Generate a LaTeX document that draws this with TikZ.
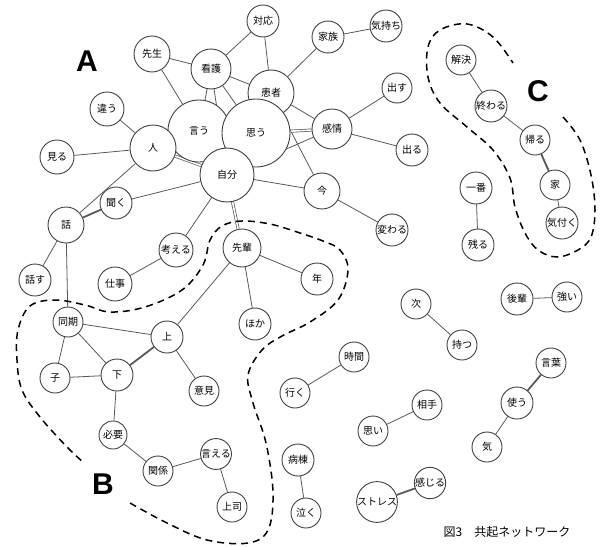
\documentclass[tikz,border=0pt]{standalone}
\usepackage{fontspec}
\newfontfamily\jp{Noto Sans CJK JP}
\newfontfamily\lat{Liberation Sans}
\usetikzlibrary{backgrounds}
\begin{document}
\begin{tikzpicture}[x=1pt,y=-1pt,
  nd/.style={circle,draw=black!75,line width=0.9pt,fill=white,inner sep=0pt,minimum size=#1pt,font=\jp\fontsize{10}{10}\selectfont},
  nd/.default=32,
  ed/.style={draw=black!65,line width=0.8pt},
  thk/.style={draw=black!65,line width=1.8pt},
  dbl/.style={draw=black!65,line width=0.7pt,double=white,double distance=1.6pt},
  grp/.style={line width=1.5pt,dash pattern=on 7pt off 5pt},
  big/.style={font=\lat\bfseries\fontsize{30}{30}\selectfont,inner sep=0pt}]
\useasboundingbox (0,0) rectangle (602,546);
% cluster A
\node[nd=32] (taiou) at (263,21) {対応};
\node[nd=36] (sensei) at (152,54) {先生};
\node[nd=40] (kango) at (211,69) {看護};
\node[nd=46] (kanja) at (271,93) {患者};
\node[nd=62] (iu) at (199,131) {言う};
\node[nd=68] (omou) at (256,133) {思う};
\node[nd=46] (hito) at (153,148) {人};
\node[nd=54] (jibun) at (227,175) {自分};
\node[nd=34] (chigau) at (107,109) {違う};
\node[nd=34] (miru) at (57,157) {見る};
\node[nd=32] (kazoku) at (328,37) {家族};
\node[nd=32] (kimochi) at (386,26) {気持ち};
\node[nd=30] (dasu) at (397,88) {出す};
\node[nd=40] (kanjou) at (332,129) {感情};
\node[nd=32] (deru) at (412,150) {出る};
\node[nd=36] (ima) at (322,191) {今};
\node[nd=32] (kawaru) at (392,230) {変わる};
\node[nd=32] (kiku) at (116,203) {聞く};
\node[nd=36] (hanashi) at (66,225) {話};
\node[nd=32] (hanasu) at (35,280) {話す};
\node[nd=34] (kangaeru) at (176,250) {考える};
\node[nd=34] (shigoto) at (115,284) {仕事};
% cluster B
\node[nd=38] (senpai) at (242,248) {先輩};
\node[nd=32] (toshi) at (317,279) {年};
\node[nd=32] (hoka) at (255,324) {ほか};
\node[nd=30] (douki) at (68,322) {同期};
\node[nd=32] (ue) at (167,337) {上};
\node[nd=30] (ko) at (55,378) {子};
\node[nd=32] (shita) at (117,375) {下};
\node[nd=30] (iken) at (204,391) {意見};
\node[nd=28] (hitsuyou) at (113,435) {必要};
\node[nd=30] (kankei) at (158,471) {関係};
\node[nd=30] (ieru) at (216,454) {言える};
\node[nd=30] (joushi) at (232,507) {上司};
% cluster C
\node[nd=30] (kaiketsu) at (461,60) {解決};
\node[nd=32] (owaru) at (491,106) {終わる};
\node[nd=30] (kaeru) at (535,140) {帰る};
\node[nd=30] (ie) at (555,185) {家};
\node[nd=32] (kiduku) at (562,223) {気付く};
% others
\node[nd=32] (ichiban) at (476,188) {一番};
\node[nd=32] (nokoru) at (478,245) {残る};
\node[nd=30] (tsugi) at (416,304) {次};
\node[nd=30] (motsu) at (462,345) {持つ};
\node[nd=32] (kouhai) at (517,299) {後輩};
\node[nd=30] (tsuyoi) at (567,297) {強い};
\node[nd=30] (jikan) at (354,357) {時間};
\node[nd=30] (iku) at (295,393) {行く};
\node[nd=30] (kotoba) at (551,363) {言葉};
\node[nd=32] (tsukau) at (517,403) {使う};
\node[nd=30] (ki) at (487,447) {気};
\node[nd=30] (aite) at (427,405) {相手};
\node[nd=30] (omoi) at (373,431) {思い};
\node[nd=32] (byoutou) at (298,460) {病棟};
\node[nd=30] (naku) at (306,513) {泣く};
\node[nd=30] (kanjiru) at (430,483) {感じる};
\node[nd=32] (stress) at (377,502) {ストレス};
% labels
\node[big] (la) at (87,61) {A};
\node[big] (lb) at (103,484) {B};
\node[big] (lc) at (538,91) {C};
\node[font=\jp\fontsize{12}{12}\selectfont,inner sep=0pt] (cap) at (507,532) {図3\hspace{1em}共起ネットワーク};
% edges
\begin{scope}[on background layer]
\draw[ed] (taiou) -- (kango);
\draw[ed] (taiou) -- (kanja);
\draw[ed] (sensei) -- (kango);
\draw[ed] (sensei) -- (iu);
\draw[ed] (kango) -- (kanja);
\draw[ed] (kango) -- (iu);
\draw[ed] (kango) -- (jibun);
\draw[ed] (kango) -- (omou);
\draw[ed] (kanja) -- (kazoku);
\draw[ed] (kanja) -- (kanjou);
\draw[ed] (kanja) -- (ima);
\draw[ed] (kazoku) -- (kimochi);
\draw[dbl] (omou) -- (kanjou);
\draw[ed] (jibun) -- (kanjou);
\draw[ed] (kanjou) -- (dasu);
\draw[ed] (kanjou) -- (deru);
\draw[ed] (ima) -- (kawaru);
\draw[ed] (jibun) -- (ima);
\draw[ed] (chigau) -- (hito);
\draw[ed] (miru) -- (hito);
\draw[dbl] (hito) -- (jibun);
\draw[ed] (hito) -- (hanashi);
\draw[thk] (kiku) -- (hanashi);
\draw[ed] (kiku) -- (jibun);
\draw[ed] (jibun) -- (kangaeru);
\draw[dbl] (jibun) -- (senpai);
\draw[ed] (kangaeru) -- (shigoto);
\draw[ed] (hanashi) -- (hanasu);
\draw[ed] (hanashi) -- (douki);
\draw[ed] (senpai) -- (toshi);
\draw[ed] (senpai) -- (hoka);
\draw[ed] (senpai) -- (ue);
\draw[ed] (douki) -- (ue);
\draw[ed] (douki) -- (ko);
\draw[ed] (douki) -- (shita);
\draw[thk] (ue) -- (shita);
\draw[ed] (ue) -- (iken);
\draw[ed] (ko) -- (shita);
\draw[ed] (shita) -- (hitsuyou);
\draw[ed] (hitsuyou) -- (kankei);
\draw[ed] (kankei) -- (ieru);
\draw[ed] (ieru) -- (joushi);
\draw[ed] (kaiketsu) -- (owaru);
\draw[ed] (owaru) -- (kaeru);
\draw[thk] (kaeru) -- (ie);
\draw[ed] (ie) -- (kiduku);
\draw[ed] (ichiban) -- (nokoru);
\draw[ed] (tsugi) -- (motsu);
\draw[ed] (kouhai) -- (tsuyoi);
\draw[ed] (jikan) -- (iku);
\draw[thk] (kotoba) -- (tsukau);
\draw[ed] (tsukau) -- (ki);
\draw[ed] (aite) -- (omoi);
\draw[ed] (byoutou) -- (naku);
\draw[thk] (kanjiru) -- (stress);
\end{scope}
% group outlines
\draw[grp] plot[smooth,tension=0.6] coordinates {(563,117) (580,140) (591,175) (595,210) (591,237) (578,250) (557,257) (538,250) (525,233) (515,207) (510,178) (493,150) (467,127) (440,103) (428,77) (428,47) (440,30) (467,24) (493,37) (513,63)};
\draw[grp] plot[smooth,tension=0.6] coordinates {(130,503) (167,523) (207,540) (248,543) (268,530) (273,493) (266,443) (253,403) (248,375) (262,350) (282,336) (310,322) (338,300) (348,270) (340,250) (323,241) (297,232) (270,224) (242,221) (222,226) (210,240) (203,265) (182,290) (145,307) (110,312) (85,305) (55,300) (30,306) (18,330) (17,360) (22,390) (40,417) (67,447) (83,462)};
\end{tikzpicture}
\end{document}
